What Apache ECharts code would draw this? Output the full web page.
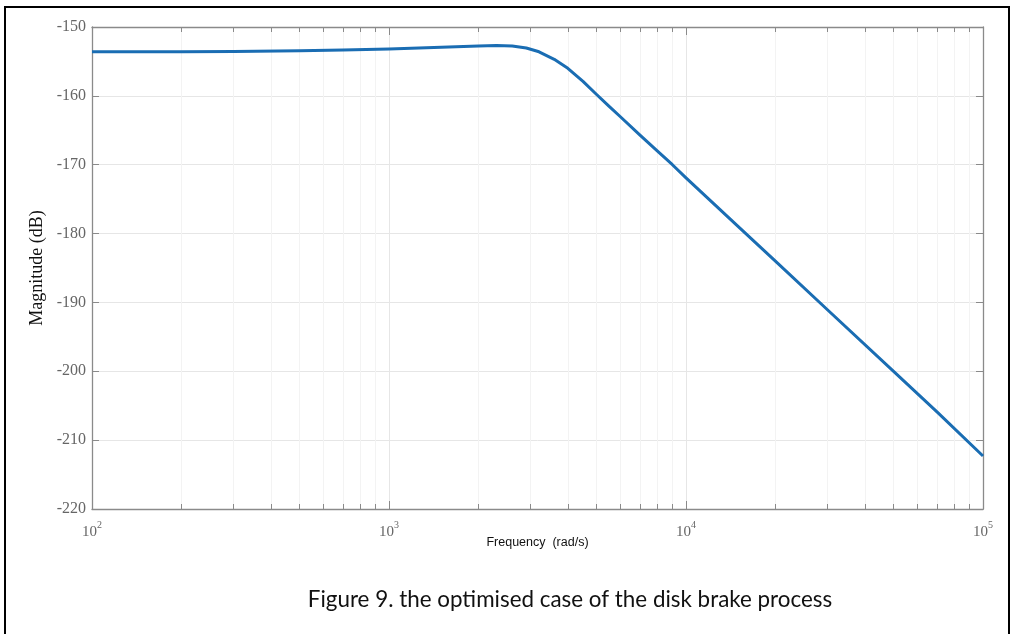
<!DOCTYPE html>
<html><head><meta charset="utf-8">
<script src="https://cdn.jsdelivr.net/npm/echarts@6/dist/echarts.min.js"></script>
<style>html,body{margin:0;padding:0;background:#fff}#c{width:1011px;height:634px}</style>
</head><body><div id="c"></div>
<script>
// Frequency (rad/s) and magnitude (dB)
const freq   = [100, 200, 300, 500, 700, 1000, 1500, 2000, 2300, 2600, 2900, 3200, 3600, 4000, 4500, 5000, 5500, 6000, 7000, 8000, 9000, 10000, 15000, 20000, 30000, 50000, 70000, 100000];
const magDb  = [-153.6, -153.6, -153.55, -153.45, -153.35, -153.2, -152.95, -152.75, -152.68, -152.75, -153.05, -153.6, -154.7, -156.0, -157.9, -159.8, -161.5, -163.0, -165.7, -168.0, -170.0, -171.9, -179.0, -184.0, -191.1, -200.0, -205.9, -212.3];
const xMajorTicks = [100, 1000, 10000, 100000];
const xMinorTicks = [200,300,400,500,600,700,800,900,2000,3000,4000,5000,6000,7000,8000,9000,20000,30000,40000,50000,60000,70000,80000,90000];
const yMin = -220, yMax = -150, yStep = 10;
const xName = 'Frequency  (rad/s)';
const yName = 'Magnitude (dB)';
const caption = 'Figure 9. the optimised case of the disk brake process';

const axisGray = '#8a8a8a';
const labelFont = 'Liberation Serif';
const chart = echarts.init(document.getElementById('c'));

function expLabel(v){
  const e = Math.round(Math.log10(v));
  return '{b|10}{s|' + e + '}';
}
const baseX = {type:'log', logBase:10, min:100, max:100000, gridIndex:0};

chart.setOption({
  animation:false,
  backgroundColor:'#fff',
  grid:{left:92, right:28, top:27, bottom:125, containLabel:false},
  xAxis:[
    Object.assign({}, baseX, {
      position:'bottom',
      name:xName, nameLocation:'middle', nameGap:27, nameMoveOverlap:false,
      nameTextStyle:{fontFamily:'Liberation Sans', fontSize:12.5, color:'#111'},
      axisLine:{show:true, lineStyle:{color:axisGray, width:1.3}},
      axisTick:{show:true, inside:true, length:8, customValues:xMajorTicks, lineStyle:{color:axisGray}},
      axisLabel:{show:true, customValues:xMajorTicks, margin:11, formatter:expLabel,
        rich:{b:{fontFamily:labelFont, fontSize:15, color:'#666', lineHeight:20, verticalAlign:'bottom'},
              s:{fontFamily:labelFont, fontSize:10, color:'#666', lineHeight:20, verticalAlign:'top', padding:[0,0,9,0]}}},
      splitLine:{show:true, lineStyle:{color:'#e6e6e6', width:1}}
    }),
    Object.assign({}, baseX, {
      position:'bottom',
      axisLine:{show:false},
      axisTick:{show:true, inside:true, length:5, customValues:xMinorTicks, lineStyle:{color:axisGray}},
      axisLabel:{show:false},
      splitLine:{show:true, lineStyle:{color:'#f3f3f3', width:1}}
    }),
    Object.assign({}, baseX, {
      position:'top',
      axisLine:{show:true, lineStyle:{color:axisGray, width:1.3}},
      axisTick:{show:true, inside:true, length:8, customValues:xMajorTicks, lineStyle:{color:axisGray}},
      axisLabel:{show:false},
      splitLine:{show:false}
    }),
    Object.assign({}, baseX, {
      position:'top',
      axisLine:{show:false},
      axisTick:{show:true, inside:true, length:5, customValues:xMinorTicks, lineStyle:{color:axisGray}},
      axisLabel:{show:false},
      splitLine:{show:false}
    })
  ],
  yAxis:[
    {type:'value', min:yMin, max:yMax, interval:yStep, position:'left',
     name:yName, nameLocation:'middle', nameGap:40, nameRotate:90,
     nameTextStyle:{fontFamily:labelFont, fontSize:18, color:'#111'},
     axisLine:{show:true, lineStyle:{color:axisGray, width:1.3}},
     axisTick:{show:true, inside:true, length:7, lineStyle:{color:axisGray}},
     axisLabel:{fontFamily:labelFont, fontSize:16, color:'#666', margin:6},
     splitLine:{show:true, lineStyle:{color:'#e6e6e6', width:1}}},
    {type:'value', min:yMin, max:yMax, interval:yStep, position:'right',
     axisLine:{show:true, lineStyle:{color:axisGray, width:1.3}},
     axisTick:{show:true, inside:true, length:7, lineStyle:{color:axisGray}},
     axisLabel:{show:false}, splitLine:{show:false}}
  ],
  series:[{
    type:'line', xAxisIndex:0, yAxisIndex:0,
    data:freq.map((f,i)=>[f, magDb[i]]),
    smooth:false, showSymbol:false, symbol:'none',
    lineStyle:{color:'#1a6db3', width:3, join:'round'}
  }],
  graphic:[
    {type:'rect', silent:true, z:100, shape:{x:5, y:7, width:1004, height:700},
     style:{fill:'none', stroke:'#000', lineWidth:2}},
    {type:'text', silent:true, x:570, y:600,
     style:{text:caption, fontFamily:'Lato', fontSize:22.4, fill:'#111', textAlign:'center', textVerticalAlign:'middle'}}
  ]
});
</script></body></html>
